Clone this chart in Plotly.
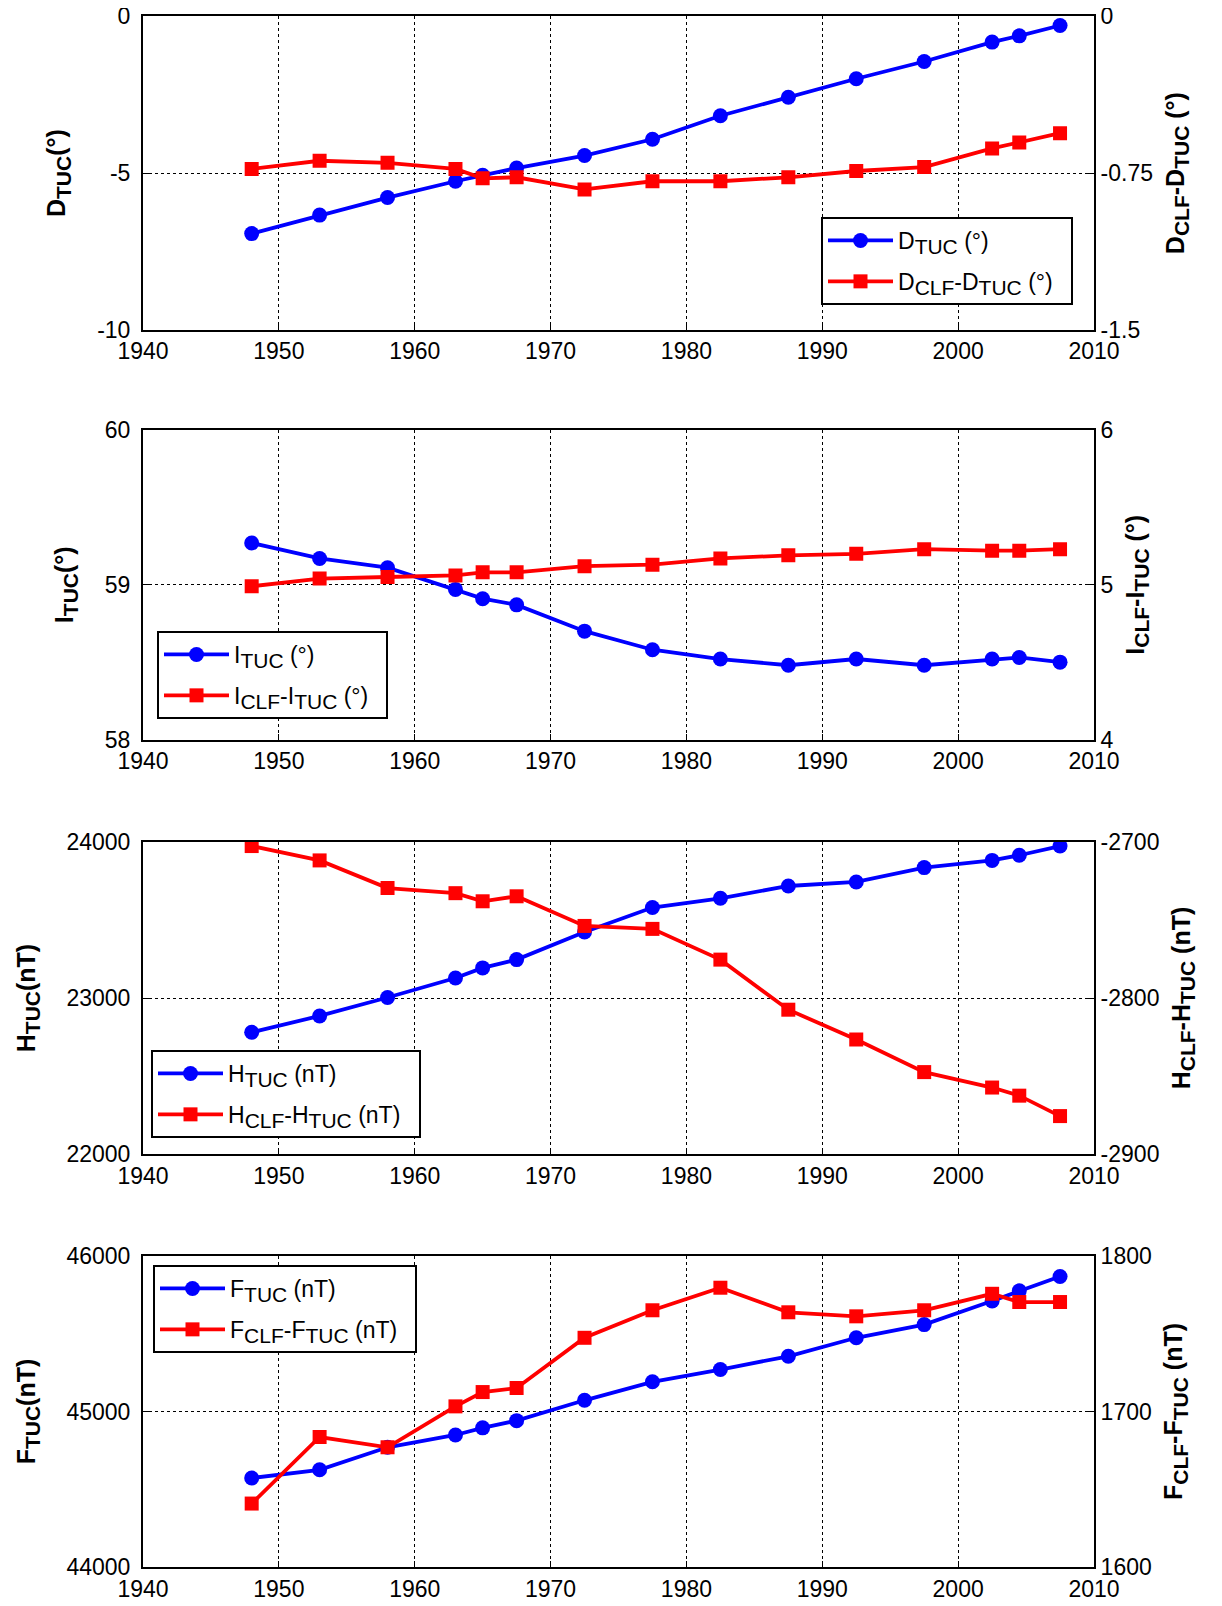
import plotly.graph_objects as go

years = [1948, 1953, 1958, 1963, 1965, 1967.5, 1972.5, 1977.5, 1982.5, 1987.5,
         1992.5, 1997.5, 2002.5, 2004.5, 2007.5]
x_ticks = [1940, 1950, 1960, 1970, 1980, 1990, 2000, 2010]

d_tuc = [-6.93, -6.34, -5.78, -5.26, -5.07, -4.84, -4.44, -3.92, -3.17, -2.58,
         -1.99, -1.44, -0.82, -0.62, -0.29]
d_diff = [-0.730, -0.691, -0.701, -0.730, -0.775, -0.770, -0.828, -0.789, -0.789,
          -0.770, -0.740, -0.721, -0.632, -0.603, -0.559]
d_ticks = [-10, -5, 0]
d_diff_ticks = [-1.5, -0.75, 0]

i_tuc = [59.27, 59.17, 59.11, 58.97, 58.91, 58.87, 58.70, 58.58, 58.52, 58.48,
         58.52, 58.48, 58.52, 58.53, 58.50]
i_diff = [4.99, 5.04, 5.05, 5.06, 5.08, 5.08, 5.12, 5.13, 5.17, 5.19,
          5.20, 5.23, 5.22, 5.22, 5.23]
i_ticks = [58, 59, 60]
i_diff_ticks = [4, 5, 6]

h_tuc = [22780, 22885, 23003, 23128, 23193, 23246, 23423, 23580, 23639, 23718,
         23744, 23836, 23882, 23915, 23974]
h_diff = [-2702.6, -2711.8, -2729.5, -2732.8, -2738.0, -2734.8, -2753.8, -2755.7,
          -2775.4, -2807.5, -2826.6, -2847.5, -2857.4, -2862.6, -2875.7]
h_ticks = [22000, 23000, 24000]
h_diff_ticks = [-2900, -2800, -2700]

f_tuc = [44572, 44625, 44770, 44849, 44895, 44941, 45072, 45191, 45270, 45355,
         45474, 45559, 45711, 45776, 45868]
f_diff = [1640.8, 1683.6, 1677.0, 1703.3, 1712.5, 1715.1, 1747.4, 1765.1, 1779.6,
          1763.8, 1761.2, 1765.1, 1775.7, 1770.4, 1770.4]
f_ticks = [44000, 45000, 46000]
f_diff_ticks = [1600, 1700, 1800]


def sub(t, size):
    return f"<sub><span style='font-size:{size}px'>{t}</span></sub>"


def lab(v):
    return f"{v:g}"  # plain hyphen-minus


LS = 21  # legend subscript size
TS = 21  # title subscript size
PAD = "\u00a0\u00a0"


def names(letter, unit):
    lname = letter + sub("TUC", LS) + f" ({unit})" + PAD
    rname = letter + sub("CLF", LS) + "-" + letter + sub("TUC", LS) + f" ({unit})" + PAD
    ltitle = f"<b>{letter}" + sub("<b>TUC</b>", TS) + f"({unit})</b>"
    rtitle = f"<b>{letter}" + sub("<b>CLF</b>", TS) + f"-{letter}" + sub("<b>TUC</b>", TS) + f" ({unit})</b>"
    return lname, rname, ltitle, rtitle


panels = [
    dict(left=d_tuc, right=d_diff, lticks=d_ticks, rticks=d_diff_ticks,
         txt=names("D", "°"), dom=[16.4, 329.8], leg=(821, 217)),
    dict(left=i_tuc, right=i_diff, lticks=i_ticks, rticks=i_diff_ticks,
         txt=names("I", "°"), dom=[430, 739.5], leg=(157, 631)),
    dict(left=h_tuc, right=h_diff, lticks=h_ticks, rticks=h_diff_ticks,
         txt=names("H", "nT"), dom=[842, 1154], leg=(151, 1050)),
    dict(left=f_tuc, right=f_diff, lticks=f_ticks, rticks=f_diff_ticks,
         txt=names("F", "nT"), dom=[1256, 1567], leg=(153, 1265)),
]

OFF = 8  # page body margin
W, H = 1222 - 2 * OFF, 1606 - 2 * OFF
FONT = "Liberation Sans, Arial, sans-serif"
BLUE = "#0000ff"
RED = "#ff0000"

fig = go.Figure()
layout = dict(
    width=W, height=H,
    margin=dict(l=0, r=0, t=0, b=0, autoexpand=False),
    paper_bgcolor="white", plot_bgcolor="white",
    font=dict(family=FONT, size=22, color="black"),
    showlegend=True,
)

xdom = [(143 - OFF) / W, (1094 - OFF) / W]

for i, p in enumerate(panels):
    n = i + 1
    xa = "x" if n == 1 else f"x{n}"
    yl_idx = 2 * n - 1
    yr_idx = 2 * n
    yl = "y" if yl_idx == 1 else f"y{yl_idx}"
    yr = f"y{yr_idx}"
    legname = "legend" if n == 1 else f"legend{n}"
    lname, rname, ltitle, rtitle = p["txt"]

    fig.add_trace(go.Scatter(
        x=years, y=p["left"], xaxis=xa, yaxis=yl, name=lname, legend=legname,
        legendgroup=f"g{n}a",
        mode="lines+markers", line=dict(color=BLUE, width=3.8),
        marker=dict(symbol="circle", size=15, color=BLUE)))
    fig.add_trace(go.Scatter(
        x=years, y=p["right"], xaxis=xa, yaxis=yr, name=rname, legend=legname,
        legendgroup=f"g{n}b",
        mode="lines+markers", line=dict(color=RED, width=3.8),
        marker=dict(symbol="square", size=14, color=RED)))

    ydom = [(H - (p["dom"][1] - OFF)) / H, (H - (p["dom"][0] - OFF)) / H]
    xkey = "xaxis" if n == 1 else f"xaxis{n}"
    ylkey = "yaxis" if yl_idx == 1 else f"yaxis{yl_idx}"
    yrkey = f"yaxis{yr_idx}"

    layout[xkey] = dict(
        domain=xdom, anchor=yl, range=[x_ticks[0], x_ticks[-1]],
        tickvals=x_ticks, ticktext=[str(v) for v in x_ticks],
        showgrid=True, gridcolor="black", griddash="dot", gridwidth=1.4,
        showline=True, linecolor="black", linewidth=2, mirror=True,
        ticks="inside", ticklen=6, tickcolor="black", ticklabeloverflow="allow",
        tickfont=dict(size=23), zeroline=False, automargin=False,
    )
    lt = p["lticks"]
    rt = p["rticks"]
    layout[ylkey] = dict(
        domain=ydom, anchor=xa, range=[lt[0], lt[-1]],
        tickvals=lt, ticktext=[lab(v) for v in lt],
        showgrid=True, gridcolor="black", griddash="dot", gridwidth=1.4,
        showline=True, linecolor="black", linewidth=2, mirror=False,
        ticks="inside", ticklen=6, tickcolor="black", ticklabelstandoff=6,
        ticklabeloverflow="allow",
        tickfont=dict(size=23), zeroline=False, automargin=False,
        title=dict(text=ltitle, font=dict(size=25), standoff=24),
    )
    layout[yrkey] = dict(
        overlaying=yl, side="right", anchor=xa, range=[rt[0], rt[-1]],
        tickvals=rt, ticktext=[lab(v) for v in rt],
        showgrid=False, showline=True, linecolor="black", linewidth=2,
        ticks="inside", ticklen=6, tickcolor="black", ticklabeloverflow="allow",
        tickfont=dict(size=23), zeroline=False, automargin=False,
        title=dict(text=rtitle, font=dict(size=25), standoff=14),
    )
    lx, ly = p["leg"]
    layout[legname] = dict(
        x=(lx - OFF) / W, y=(H - (ly - OFF)) / H, xanchor="left", yanchor="top",
        bgcolor="white", bordercolor="black", borderwidth=2,
        font=dict(size=23), itemwidth=65, tracegroupgap=8,
    )

fig.update_layout(**layout)
fig.write_html("out.html")
